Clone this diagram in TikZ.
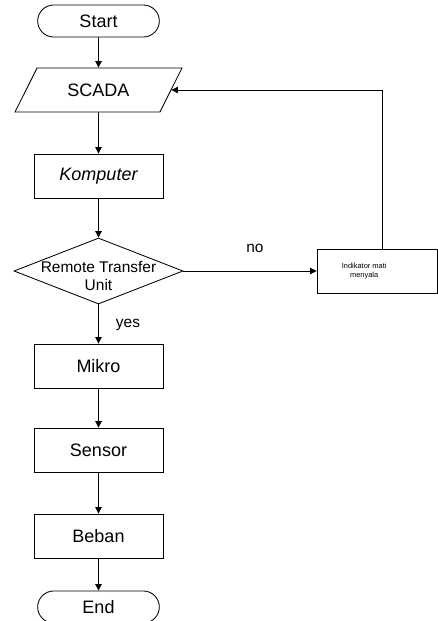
\documentclass[tikz,border=0pt]{standalone}
\usepackage{fontspec}
\setmainfont{Liberation Sans}
\usetikzlibrary{shapes.geometric,shapes.misc,arrows.meta}
\tikzset{
  terminal/.style={draw, rounded rectangle, minimum width=3.275cm, minimum height=0.8cm, font=\fontsize{12.8}{14}\selectfont},
  process/.style={draw, rectangle, minimum width=3.225cm, minimum height=1.1cm, font=\fontsize{12.8}{14}\selectfont},
  io/.style={draw, trapezium, trapezium left angle=45, trapezium right angle=135, trapezium stretches body, minimum width=4.175cm, minimum height=1.1cm, font=\fontsize{12.8}{14}\selectfont},
  decision/.style={draw, diamond, minimum width=4.225cm, minimum height=1.65cm, inner sep=0pt},
  flow/.style={-{Triangle[length=0.16cm,width=0.16cm]}},
  tag/.style={font=\fontsize{11}{13}\selectfont}
}
\begin{document}
\begin{tikzpicture}[x=0.025cm, y=-0.025cm, line width=0.6pt]
        \useasboundingbox (0,0) rectangle (438,621);
        \node[terminal] (start) at (98.5,21) {Start};
        \node[io] (scada) at (98.5,90) {SCADA};
        \node[process] (komputer) at (98.5,176) {\itshape Komputer};
        \node[decision, label={[tag, align=center, yshift=-0.12cm]center:Remote Transfer\\Unit}] (rtu) at (98.5,271) {};
        \node[process] (mikro) at (98.5,366) {Mikro};
        \node[process] (sensor) at (98.5,450) {Sensor};
        \node[process] (beban) at (98.5,536) {Beban};
        \node[terminal] (end) at (98.5,607) {End};
        \node[draw, rectangle, minimum width=3cm, minimum height=1.1cm, label={[xshift=-0.32cm, font=\fontsize{5.3}{6}\selectfont, align=center]center:Indikator mati\\menyala}] (ind) at (377,271) {};
        \node[tag] (no) at (255,248) {no};
        \node[tag] (yes) at (128,325) {yes};
        \coordinate (fb) at (382,249);
        \draw[flow] (start) -- (scada);
        \draw[flow] (scada) -- (komputer);
        \draw[flow] (komputer) -- (rtu);
        \draw[flow] (rtu) -- (mikro);
        \draw[flow] (rtu) -- (ind);
        \draw[flow] (fb) |- (scada.east);
        \draw[flow] (mikro) -- (sensor);
        \draw[flow] (sensor) -- (beban);
        \draw[flow] (beban) -- (end);
    \end{tikzpicture}
\end{document}
